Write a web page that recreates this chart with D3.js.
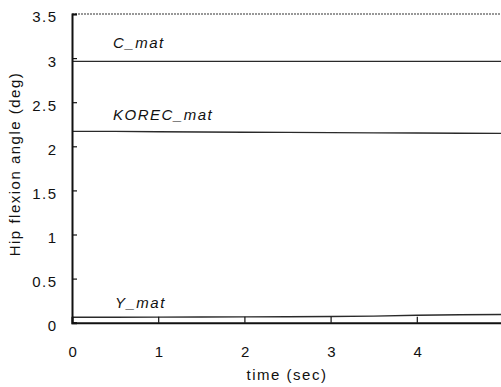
<!DOCTYPE html>
<html><head><meta charset="utf-8">
<script src="https://cdn.jsdelivr.net/npm/d3@7"></script>
<style>body{margin:0;background:#fff;} text{font-family:"Liberation Sans",Arial,sans-serif;}</style>
</head><body><svg id="c" width="501" height="387"></svg>
<script>
const time = [0, 0.5, 1, 1.5, 2, 2.5, 3, 3.5, 4, 4.5, 5];
const cMat = [2.963, 2.963, 2.963, 2.963, 2.963, 2.963, 2.963, 2.963, 2.963, 2.963, 2.963];
const korecMat = [2.169, 2.169, 2.165, 2.162, 2.16, 2.158, 2.155, 2.152, 2.15, 2.148, 2.147];
const yMat = [0.062, 0.062, 0.063, 0.065, 0.066, 0.068, 0.07, 0.074, 0.085, 0.09, 0.093];
const seriesNames = ["C_mat", "KOREC_mat", "Y_mat"];
const xTicks = [0, 1, 2, 3, 4];
const xTickLabels = ["0", "1", "2", "3", "4"];
const yTicks = [0, 0.5, 1, 1.5, 2, 2.5, 3, 3.5];
const yTickLabels = ["0", "0.5", "1", "1.5", "2", "2.5", "3", "3.5"];

const FS = 15, LS = "1.5px";
const svg = d3.select("#c");
const x = d3.scaleLinear().domain([0, 5]).range([72, 503]);
const y = d3.scaleLinear().domain([0, 3.5]).range([322.7, 14]);

// top frame line (dotted)
svg.append("line").attr("x1", x(0)).attr("x2", 501).attr("y1", y(3.5)).attr("y2", y(3.5))
  .attr("stroke", "#777").attr("stroke-width", 1.3).attr("stroke-dasharray", "2,1");

const line = d3.line().x(d => x(d[0])).y(d => y(d[1]));
const data = [cMat, korecMat, yMat];
data.forEach((vals) => {
  svg.append("path").datum(time.map((t, j) => [t, vals[j]]))
    .attr("d", line).attr("fill", "none").attr("stroke", "#2a2a2a").attr("stroke-width", 1.4);
});

// axes
const yAxis = d3.axisLeft(y).tickValues(yTicks).tickSize(-5).tickPadding(14.5)
  .tickFormat((d, i) => yTickLabels[i]);
const gy = svg.append("g").attr("transform", `translate(${x(0)},0)`).call(yAxis);
gy.select(".domain").attr("stroke", "#111").attr("stroke-width", 2);
gy.selectAll(".tick line").attr("stroke", "#111").attr("stroke-width", 1.2);
gy.selectAll("text").attr("font-size", FS).attr("letter-spacing", LS).attr("fill", "#111")
  .attr("dy", null).attr("y", 4).attr("dominant-baseline", "middle");

const xAxis = d3.axisBottom(x).tickValues(xTicks).tickSize(-6).tickPadding(24)
  .tickFormat((d, i) => xTickLabels[i]);
const gx = svg.append("g").attr("transform", `translate(0,${y(0)})`).call(xAxis);
gx.select(".domain").attr("stroke", "#111").attr("stroke-width", 2);
gx.selectAll(".tick line").attr("stroke", "#111").attr("stroke-width", 1.2);
gx.selectAll("text").attr("font-size", FS).attr("letter-spacing", LS).attr("fill", "#111")
  .attr("dx", 1);

// series labels
const labelPos = [[113, 48], [113, 120], [115, 308]];
seriesNames.forEach((n, i) => {
  svg.append("text").attr("x", labelPos[i][0]).attr("y", labelPos[i][1])
    .attr("font-size", FS).attr("letter-spacing", LS).attr("font-style", "italic").attr("fill", "#111").text(n);
});

// axis titles
svg.append("text").attr("x", 287).attr("y", 380).attr("text-anchor", "middle")
  .attr("font-size", FS).attr("letter-spacing", LS).attr("fill", "#111").text("time (sec)");
svg.append("text").attr("transform", `translate(20,164) rotate(-90)`).attr("text-anchor", "middle")
  .attr("font-size", FS).attr("letter-spacing", LS).attr("fill", "#111").text("Hip flexion angle (deg)");
</script></body></html>
